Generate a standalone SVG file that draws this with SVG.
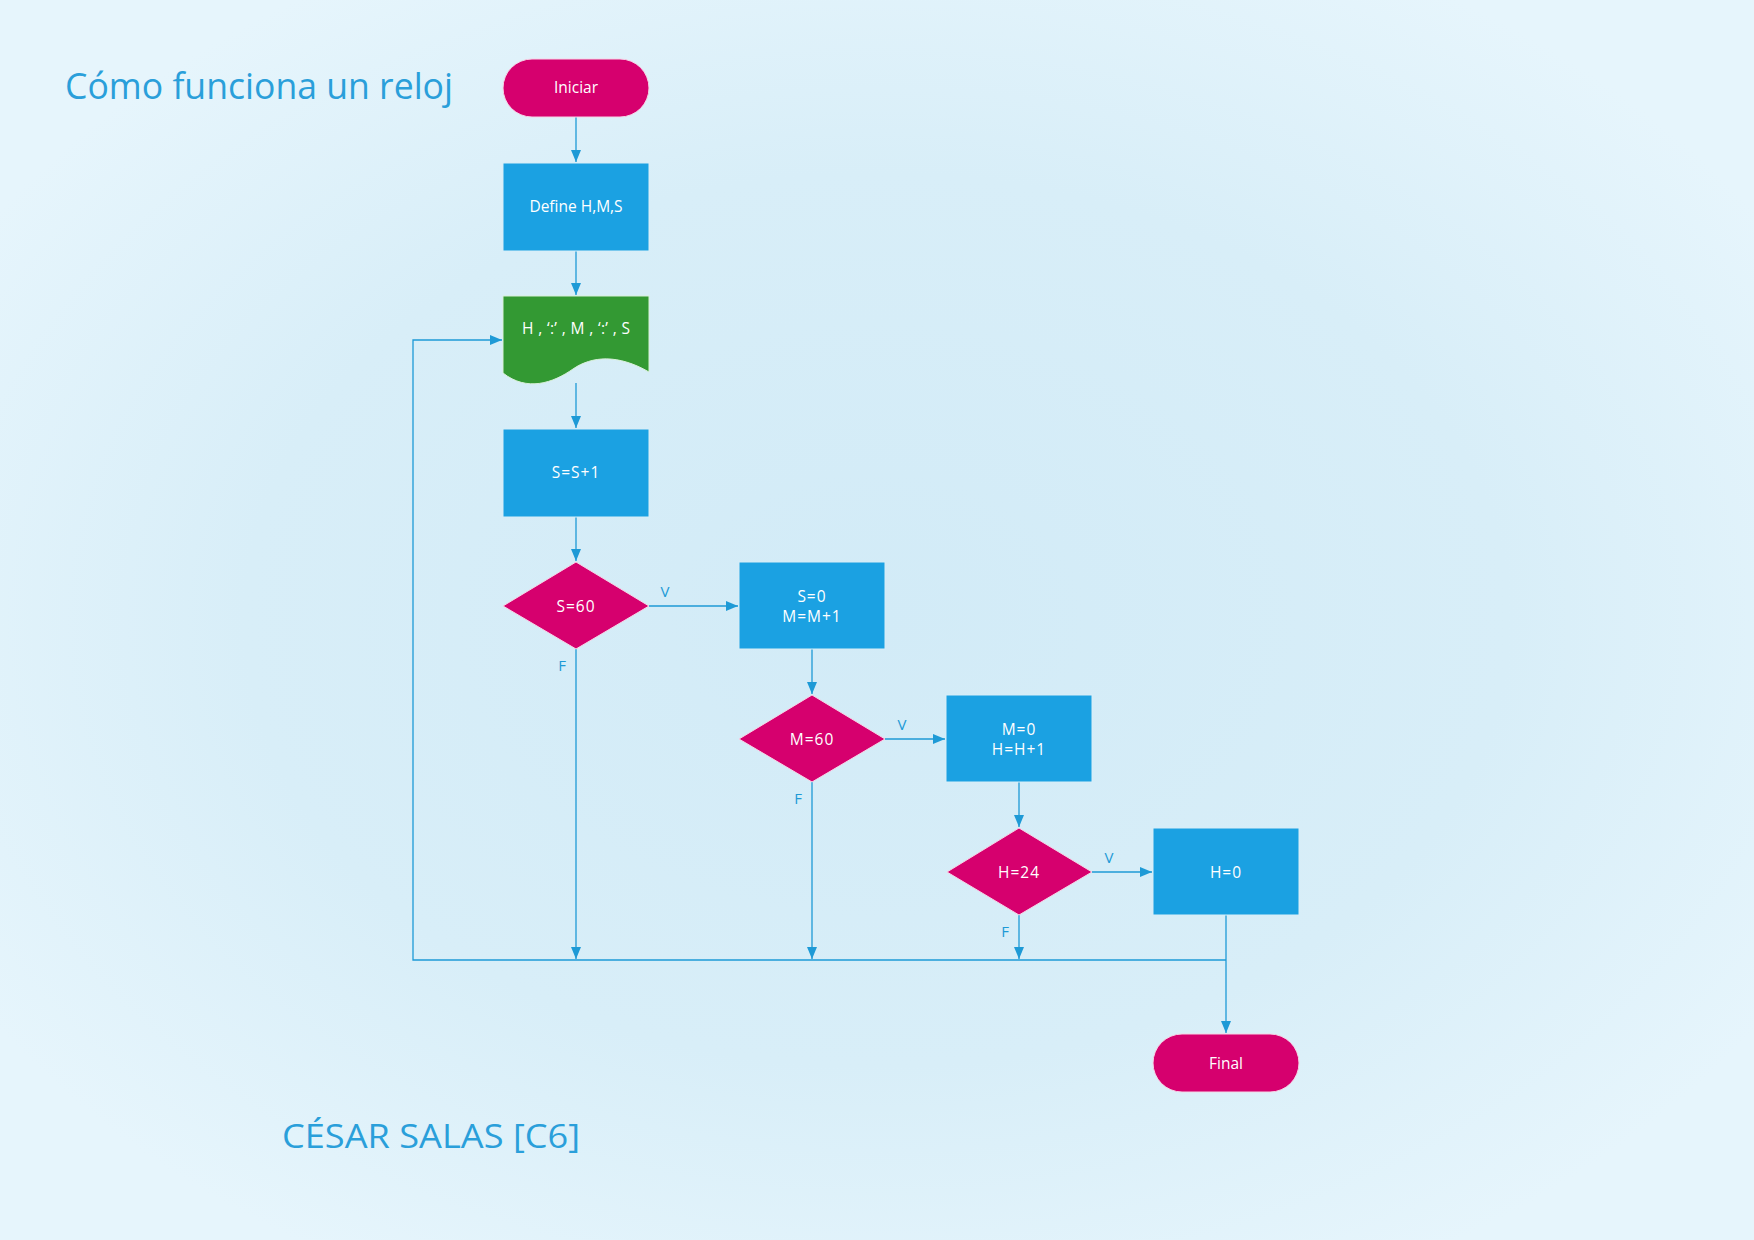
<svg xmlns="http://www.w3.org/2000/svg" width="1754" height="1240" viewBox="0 0 1754 1240">
<defs>
<radialGradient id="bg" cx="0.5" cy="0.5" r="0.6">
<stop offset="0" stop-color="#D2EBF7"/>
<stop offset="0.6" stop-color="#D8EEF8"/>
<stop offset="1" stop-color="#E6F5FC"/>
</radialGradient>
<marker id="ah" markerWidth="12" markerHeight="12" viewBox="0 0 12 12" refX="12" refY="6" orient="auto" markerUnits="userSpaceOnUse">
<path d="M0,1 L12,6 L0,11 Z" fill="#1E9AD6"/>
</marker>
<style>
.term{fill:#D6006E;stroke:#F6D5E6;stroke-width:1}
.proc{fill:#1BA1E2;stroke:#D8EEF8;stroke-width:1}
.dec{fill:#D6006E;stroke:#F6D5E6;stroke-width:1}
.doc{fill:#339933;stroke:#D8F0D8;stroke-width:1}
.t{font-family:"Open Sans","Noto Sans","DejaVu Sans",sans-serif;font-size:15.5px;fill:#FFFFFF;text-anchor:middle}
.c{fill:none;stroke:#1E9AD6;stroke-width:1.3}
.lbl{font-family:"Open Sans","Noto Sans","DejaVu Sans",sans-serif;font-size:15px;fill:#1E9AD6;text-anchor:middle}
.title{font-family:"Open Sans","Noto Sans","DejaVu Sans",sans-serif;fill:#2A9FDA}
</style>
</defs>
<rect x="0" y="0" width="1754" height="1240" fill="url(#bg)"/>

<text class="title" x="65" y="99" font-size="36" textLength="388" lengthAdjust="spacingAndGlyphs">Cómo funciona un reloj</text>
<text class="title" x="282" y="1148" font-size="32" textLength="298" lengthAdjust="spacingAndGlyphs">CÉSAR SALAS [C6]</text>

<g id="connectors">
<line class="c" x1="576" y1="117" x2="576" y2="162" marker-end="url(#ah)"/>
<line class="c" x1="576" y1="251" x2="576" y2="295" marker-end="url(#ah)"/>
<line class="c" x1="576" y1="383" x2="576" y2="428" marker-end="url(#ah)"/>
<line class="c" x1="576" y1="517" x2="576" y2="561" marker-end="url(#ah)"/>
<line class="c" x1="649" y1="606" x2="738" y2="606" marker-end="url(#ah)"/>
<line class="c" x1="812" y1="649" x2="812" y2="694" marker-end="url(#ah)"/>
<line class="c" x1="885" y1="739" x2="945" y2="739" marker-end="url(#ah)"/>
<line class="c" x1="1019" y1="782" x2="1019" y2="827" marker-end="url(#ah)"/>
<line class="c" x1="1092" y1="872" x2="1152" y2="872" marker-end="url(#ah)"/>
<line class="c" x1="576" y1="649" x2="576" y2="959" marker-end="url(#ah)"/>
<line class="c" x1="812" y1="782" x2="812" y2="959" marker-end="url(#ah)"/>
<line class="c" x1="1019" y1="915" x2="1019" y2="959" marker-end="url(#ah)"/>
<line class="c" x1="1226" y1="915" x2="1226" y2="1033" marker-end="url(#ah)"/>
<polyline class="c" points="1226,960 413,960 413,340 502,340" marker-end="url(#ah)"/>
<text class="lbl" x="665" y="597">V</text>
<text class="lbl" x="562" y="671">F</text>
<text class="lbl" x="902" y="730">V</text>
<text class="lbl" x="798" y="804">F</text>
<text class="lbl" x="1109" y="863">V</text>
<text class="lbl" x="1005" y="937">F</text>
</g>

<g id="iniciar">
<rect class="term" x="503" y="59" width="146" height="58" rx="29" ry="29"/>
<text class="t" x="576" y="93">Iniciar</text>
</g>
<g id="define">
<rect class="proc" x="503" y="163" width="146" height="88"/>
<text class="t" x="576" y="212">Define H,M,S</text>
</g>
<g id="mostrar">
<path class="doc" d="M503,296 H649 V372 C618,354 592,356 573,369 C553,383 527,392 503,373 Z"/>
<text class="t" x="576" y="334" textLength="108" lengthAdjust="spacing">H , ‘:’ , M , ‘:’ , S</text>
</g>
<g id="incS">
<rect class="proc" x="503" y="429" width="146" height="88"/>
<text class="t" x="576" y="478" letter-spacing="1">S=S+1</text>
</g>
<g id="decS">
<polygon class="dec" points="576,562 649,606 576,649 503,606"/>
<text class="t" x="576" y="612" letter-spacing="1">S=60</text>
</g>
<g id="resetS">
<rect class="proc" x="739" y="562" width="146" height="87"/>
<text class="t" x="812" y="602" letter-spacing="1">S=0</text>
<text class="t" x="812" y="622" letter-spacing="1">M=M+1</text>
</g>
<g id="decM">
<polygon class="dec" points="812,695 885,739 812,782 739,739"/>
<text class="t" x="812" y="745" letter-spacing="1">M=60</text>
</g>
<g id="resetM">
<rect class="proc" x="946" y="695" width="146" height="87"/>
<text class="t" x="1019" y="735" letter-spacing="1">M=0</text>
<text class="t" x="1019" y="755" letter-spacing="1">H=H+1</text>
</g>
<g id="decH">
<polygon class="dec" points="1019,828 1092,872 1019,915 947,872"/>
<text class="t" x="1019" y="878" letter-spacing="1">H=24</text>
</g>
<g id="resetH">
<rect class="proc" x="1153" y="828" width="146" height="87"/>
<text class="t" x="1226" y="878" letter-spacing="1">H=0</text>
</g>
<g id="final">
<rect class="term" x="1153" y="1034" width="146" height="58" rx="29" ry="29"/>
<text class="t" x="1226" y="1069">Final</text>
</g>
</svg>
